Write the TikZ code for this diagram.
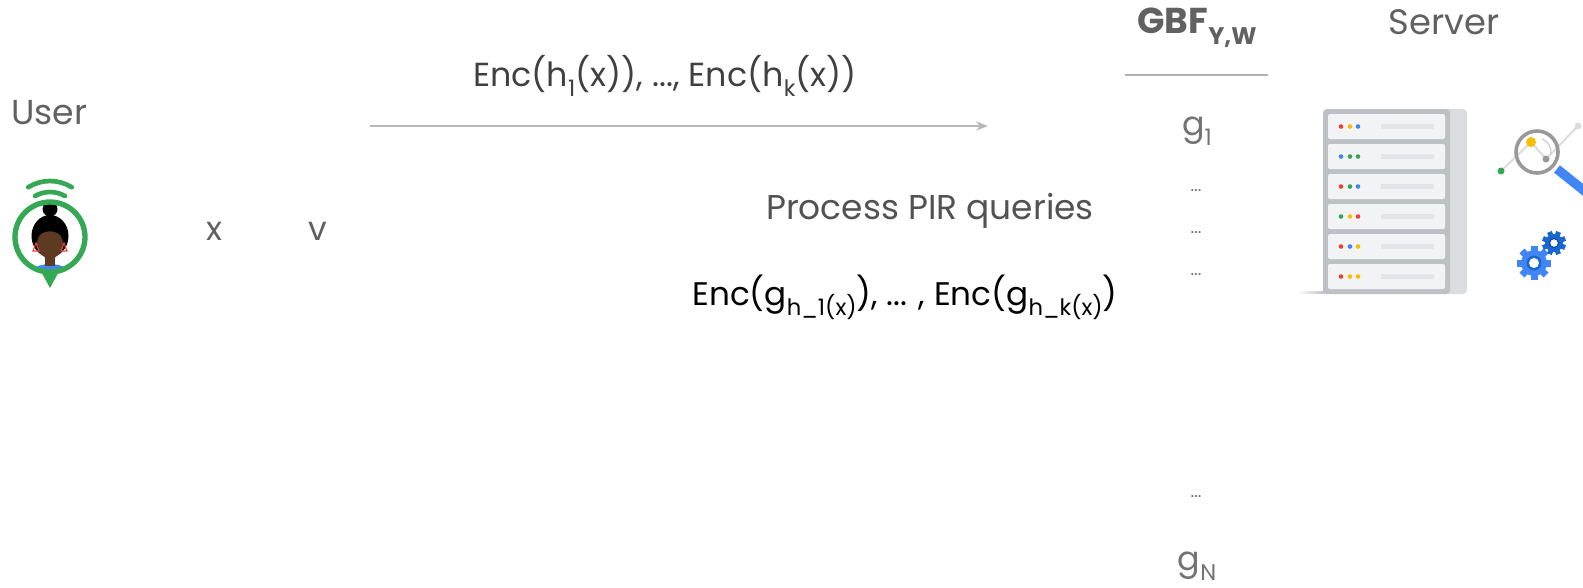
\documentclass[tikz,border=0pt]{standalone}
\usepackage{fontspec}
\setmainfont{Poppins}
\usetikzlibrary{arrows.meta}
\definecolor{gred}{HTML}{EA4335}
\definecolor{gyellow}{HTML}{FBBC04}
\definecolor{gblue}{HTML}{4285F4}
\definecolor{ggreen}{HTML}{34A853}
\definecolor{gdblue}{HTML}{1967D2}
\definecolor{rackdark}{HTML}{BDC1C6}
\definecolor{racklight}{HTML}{DADCE0}
\definecolor{slot}{HTML}{F1F3F4}
\definecolor{slotbar}{HTML}{E2E4E7}
\definecolor{skin}{HTML}{5D3A22}
% lowered subscript in the text font: size, text
\newcommand\lo[2]{\raisebox{-0.3em}{\fontsize{#1}{#1}\selectfont #2}}
\begin{document}
\begin{tikzpicture}[x=0.75pt,y=-0.75pt,
  lbl/.style={inner sep=0pt,font=\fontsize{25}{28}\selectfont,text=black!62},
  dotsty/.style={inner sep=0pt,font=\fontsize{13}{13}\selectfont,text=black!55}]
\useasboundingbox (0,0) rectangle (1583,587);

% ---- user avatar ----
\draw[ggreen,line width=3.5,line cap=round] (50,222) ++(240:30) arc (240:300:30);
\draw[ggreen,line width=3.5,line cap=round] (50,222) ++(238:41) arc (238:302:41);
\fill[ggreen] (38,266) -- (62,266) -- (50,288) -- cycle;
\begin{scope}
  \clip (50,237) circle (35);
  \fill[white] (50,237) circle (35);
  \fill[gblue] (50,285) ellipse (28 and 21);
  \fill[black] (50,236) ellipse (18.5 and 21);
  \fill[black] (50,209) circle (7.5);
  \fill[skin] (45,250) rectangle (55,266);
  \fill[skin] (50,244) ellipse (13 and 14.5);
  \fill[black] (37,238) .. controls (40,224) and (60,224) .. (63,238)
               .. controls (58,229) and (42,229) .. cycle;
  \draw[gred,line width=0.8] (36,243) -- (33,251) -- (39,251) -- cycle;
  \draw[gred,line width=0.8] (64,243) -- (61,251) -- (67,251) -- cycle;
\end{scope}
\draw[ggreen,line width=4] (50,237) circle (35);

\node[lbl,font=\fontsize{26}{28}\selectfont] (user) at (49,113) {User};
\node[lbl] (x) at (214,231) {x};
\node[lbl] (v) at (318,231) {v};

% ---- query arrow ----
\coordinate (qs) at (370,126);
\coordinate (qe) at (988,126);
\draw[black!28,line width=1.2,-{Stealth[length=9,width=7]}] (qs) -- (qe);
\node[lbl,text=black!75] (query) at (665,76) {Enc(h\lo{17}{1}(x)), ..., Enc(h\lo{17}{k}(x))};
\node[lbl,text=black!68,font=\fontsize{25.8}{28}\selectfont] (proc) at (930,211) {Process PIR queries};
\node[lbl,text=black,font=\fontsize{24.5}{28}\selectfont] (resp) at (905,297) {Enc(g\lo{17}{h\_1(x)}), ... , Enc(g\lo{17}{h\_k(x)})};

% ---- bloom filter column ----
\node[lbl,font=\fontsize{27}{30}\bfseries\selectfont,text=black!62] (gbf) at (1197,28) {GBF\lo{18}{\bfseries Y,W}};
\coordinate (hl) at (1125,75);
\coordinate (hr) at (1268,75);
\draw[black!30,line width=1.5] (hl) -- (hr);
\node[lbl,text=black!55] (g1) at (1197,131) {g\lo{17}{1}};
\node[dotsty] (d1) at (1196,191) {...};
\node[dotsty] (d2) at (1196,233) {...};
\node[dotsty] (d3) at (1196,275) {...};
\node[dotsty] (d4) at (1196,497) {...};
\node[lbl,text=black!55] (gN) at (1197,566) {g\lo{17}{N}};

% ---- server ----
\node[lbl,font=\fontsize{26.5}{28}\selectfont] (server) at (1444,22) {Server};
\shade[left color=white,right color=black!25] (1297,291) rectangle (1325,293);
\fill[racklight,rounded corners=3] (1323,109) rectangle (1467,294);
\fill[rackdark,rounded corners=3] (1323,109) rectangle (1450,294);
\foreach \i/\ca/\cb/\cc in {0/gred/gyellow/gblue,1/gblue/ggreen/ggreen,2/gred/ggreen/gblue,
                            3/ggreen/gyellow/gred,4/gred/gblue/gyellow,5/gred/gyellow/gyellow}{
  \fill[slot,rounded corners=1.5] (1328,114+30*\i) rectangle (1445,139+30*\i);
  \fill[\ca] (1341,126.5+30*\i) circle (2.3);
  \fill[\cb] (1350,126.5+30*\i) circle (2.3);
  \fill[\cc] (1358,126.5+30*\i) circle (2.3);
  \fill[slotbar] (1381,124+30*\i) rectangle (1434,129+30*\i);
}

% ---- magnifier ----
\draw[racklight,line width=1.5] (1501,171) -- (1531,142) -- (1546,159) -- (1578,126);
\draw[gblue,line width=7] (1557,169) -- (1592,197);
\draw[black!40,line width=2.7] (1537,152) circle (21);
\draw[black!22,line width=0.8] (1537,152) ++(-70:14) arc (-70:10:14);
\fill[ggreen] (1501,171) circle (3.5);
\fill[gyellow] (1531,142) circle (5);
\fill[black!40] (1546,159) circle (3.5);
\fill[racklight] (1578,126) circle (3.5);

% ---- gears ----
\begin{scope}[shift={(1534,263)}]
  \foreach \a in {0,45,90,135} \fill[gblue,rotate=\a] (-3.5,-17) rectangle (3.5,17);
  \fill[gblue] (0,0) circle (13);
  \fill[gdblue] (0,0) circle (7.5);
  \fill[white] (0,0) circle (5);
\end{scope}
\begin{scope}[shift={(1554,243)}]
  \foreach \a in {0,45,90,135} \fill[gdblue,rotate=\a+22.5] (-2.5,-12) rectangle (2.5,12);
  \fill[gdblue] (0,0) circle (9);
  \fill[white] (0,0) circle (4);
  \draw[gdblue!70!black,line width=0.8] (0,0) circle (4.5);
\end{scope}
\end{tikzpicture}
\end{document}
